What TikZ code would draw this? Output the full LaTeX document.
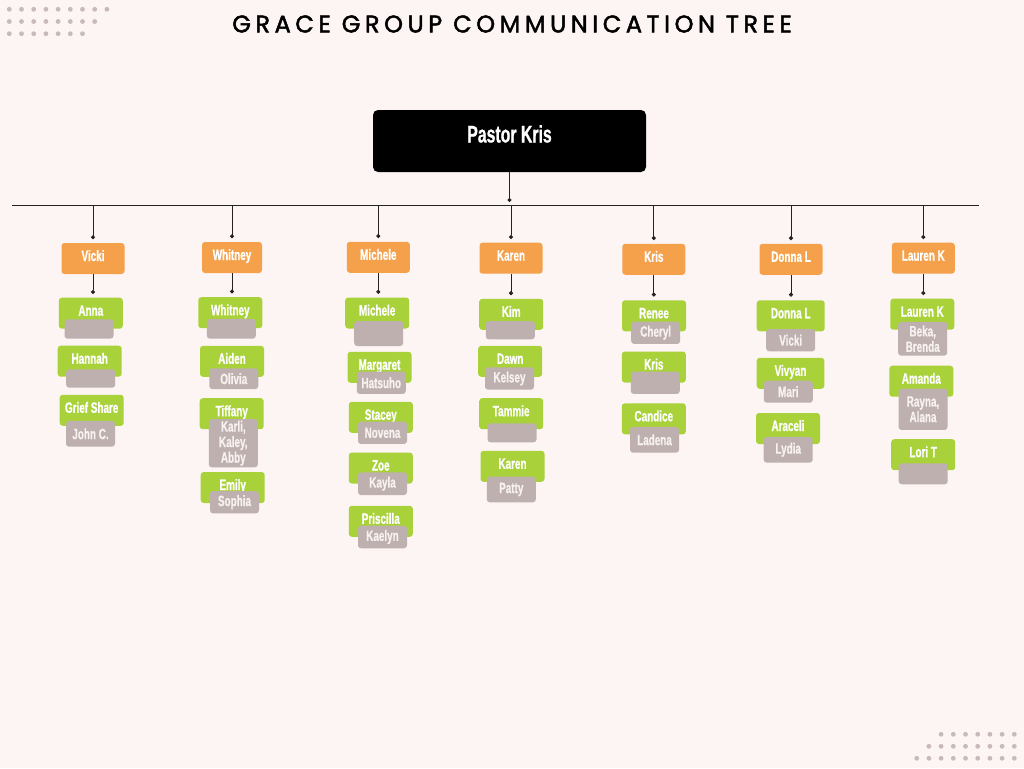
\documentclass[tikz,border=0pt]{standalone}
\usepackage{fontspec}
\usetikzlibrary{positioning,arrows.meta}

\newfontfamily\namefont{Liberation Sans}[FakeStretch=0.66,FakeBold=0.8]
\newfontfamily\titlefont{Poppins}[LetterSpace=19,FakeBold=2]

\definecolor{bgpink}{HTML}{FDF5F3}
\definecolor{leadorange}{HTML}{F5A04A}
\definecolor{memgreen}{HTML}{A9D23A}
\definecolor{notegrey}{HTML}{BDB0AE}
\definecolor{notetext}{HTML}{F7F1F0}
\definecolor{dotgrey}{HTML}{C7BAB8}
\definecolor{linegrey}{HTML}{222222}

\begin{document}
\begin{tikzpicture}[
  x=1pt, y=-1pt,
  font=\namefont\bfseries\fontsize{15}{15.5}\selectfont,
  box/.style={rounded corners=3pt, align=center, text=white, inner xsep=2pt},
  lead/.style={box, fill=leadorange, minimum width=63pt, inner ysep=3pt, text height=15pt, text depth=10pt},
  member/.style={box, fill=memgreen, minimum width=64pt, inner ysep=3pt, text height=15pt, text depth=10pt},
  note/.style={box, fill=notegrey, text=notetext, minimum width=49pt, inner ysep=1pt},
  arr/.style={-{Circle[length=4pt]}, line width=0.9pt, draw=linegrey, shorten >=3.5pt}
]
\useasboundingbox[fill=bgpink] (0,0) rectangle (1024,768);

% dots in the corners
\foreach \r in {0,1,2} {
  \foreach \i in {0,...,8} {
    \pgfmathtruncatemacro{\n}{8-\r}
    \ifnum\i>\n\else \fill[dotgrey] (9.3+12.2*\i, 9.3+12.2*\r) circle (2.4pt); \fi
    \pgfmathtruncatemacro{\m}{6+\r}
    \ifnum\i>\m\else \fill[dotgrey] (1014.3-12.2*\i, 734.3+12*\r) circle (2.4pt); \fi
  }
}

\node[font=\titlefont\fontsize{24}{26}\selectfont, text=black] (title) at (512,24) {GRACE GROUP COMMUNICATION TREE};

\node[box, fill=black, minimum width=273pt, inner ysep=0pt, text height=32.5pt, text depth=29.5pt, rounded corners=5pt,
  font=\namefont\bfseries\fontsize{24}{26}\selectfont] (pastor) at (509.5,141) {Pastor Kris};

\coordinate (barL) at (12,205.5);
\coordinate (barR) at (979,205.5);
\draw[line width=0.9pt, draw=linegrey] (barL) -- (barR);

% leaders
\node[lead] (vicki) at (93,258.5) {Vicki};
\node[lead, minimum width=60pt] (whitney) at (232,257.5) {Whitney};
\node[lead] (michele) at (378.3,257.3) {Michele};
\node[lead] (karen) at (511,258.2) {Karen};
\node[lead] (kris) at (653.8,259.3) {Kris};
\node[lead] (donna) at (791,259.3) {Donna L};
\node[lead] (lauren) at (923.3,258.2) {Lauren K};

% Vicki
\node[member] (vicki1) at (90.8,313.2) {Anna};
\node[note, minimum height=19.4pt] (vicki1n) at (89,329) {};
\node[member] (vicki2) at (89.7,361.2) {Hannah};
\node[note, minimum height=18.4pt] (vicki2n) at (90.7,378.5) {};
\node[member] (vicki3) at (91.7,410.3) {Grief Share};
\node[note, minimum height=25.7pt] (vicki3n) at (90.5,433.8) {John C.};

% Whitney
\node[member] (whitney1) at (230.3,312.7) {Whitney};
\node[note, minimum height=19.7pt] (whitney1n) at (231.3,328.8) {};
\node[member] (whitney2) at (232,361.3) {Aiden};
\node[note, minimum height=20.7pt] (whitney2n) at (233.8,378.7) {Olivia};
\node[member] (whitney3) at (231.7,413.7) {Tiffany};
\node[note, minimum height=48.3pt] (whitney3n) at (233.3,443.2) {Karli,\\Kaley,\\Abby};
\node[member] (whitney4) at (232.7,487.5) {Emily};
\node[note, minimum height=22.3pt] (whitney4n) at (234.5,502.2) {Sophia};

% Michele
\node[member] (michele1) at (377.2,313) {Michele};
\node[note, minimum height=25pt] (michele1n) at (378.7,333.5) {};
\node[member] (michele2) at (379.5,367.3) {Margaret};
\node[note, minimum height=22.3pt] (michele2n) at (381.3,382.8) {Hatsuho};
\node[member] (michele3) at (380.8,417.3) {Stacey};
\node[note, minimum height=22.3pt] (michele3n) at (382.5,432.8) {Novena};
\node[member] (michele4) at (380.8,468) {Zoe};
\node[note, minimum height=22.7pt] (michele4n) at (382.5,483.7) {Kayla};
\node[member] (michele5) at (380.8,521.3) {Priscilla};
\node[note, minimum height=22.6pt] (michele5n) at (382.5,537) {Kaelyn};

% Karen
\node[member] (karen1) at (511.2,314.3) {Kim};
\node[note, minimum height=18.3pt] (karen1n) at (510.3,330.2) {};
\node[member] (karen2) at (510.2,361.3) {Dawn};
\node[note, minimum height=22.4pt] (karen2n) at (509.5,378.5) {Kelsey};
\node[member] (karen3) at (511.2,413.7) {Tammie};
\node[note, minimum height=19pt] (karen3n) at (512,432.8) {};
\node[member] (karen4) at (512.5,466.3) {Karen};
\node[note, minimum height=25.6pt] (karen4n) at (511.3,489.5) {Patty};

% Kris
\node[member] (kris1) at (654,315.8) {Renee};
\node[note, minimum height=22.3pt] (kris1n) at (655.7,332.8) {Cheryl};
\node[member] (kris2) at (653.8,367) {Kris};
\node[note, minimum height=22.3pt] (kris2n) at (655.3,382.8) {};
\node[member] (kris3) at (653.8,418.8) {Candice};
\node[note, minimum height=25.7pt] (kris3n) at (654.5,439.8) {Ladena};

% Donna L
\node[member, minimum width=68pt] (donna1) at (790.7,315.8) {Donna L};
\node[note, minimum height=22.3pt] (donna1n) at (790.7,340.2) {Vicki};
\node[member, minimum width=67.6pt] (donna2) at (790.5,373.3) {Vivyan};
\node[note, minimum height=22pt] (donna2n) at (788.3,391.7) {Mari};
\node[member] (donna3) at (788,428.5) {Araceli};
\node[note, minimum height=25.7pt] (donna3n) at (788.2,449.8) {Lydia};

% Lauren K
\node[member] (lauren1) at (922.3,314.2) {Lauren K};
\node[note, minimum height=33.7pt] (lauren1n) at (922.7,338.8) {Beka,\\Brenda};
\node[member] (lauren2) at (921.3,381.2) {Amanda};
\node[note, minimum height=41.3pt] (lauren2n) at (923,409.3) {Rayna,\\Alana};
\node[member] (lauren3) at (923.2,454.7) {Lori T};
\node[note, minimum height=21pt] (lauren3n) at (923.2,473.8) {};

% connectors
\draw[arr] (pastor.south) -- (pastor.south |- barL);
\draw[arr] (vicki.north |- barL) -- (vicki.north);
\draw[arr] (whitney.north |- barL) -- (whitney.north);
\draw[arr] (michele.north |- barL) -- (michele.north);
\draw[arr] (karen.north |- barL) -- (karen.north);
\draw[arr] (kris.north |- barL) -- (kris.north);
\draw[arr] (donna.north |- barL) -- (donna.north);
\draw[arr] (lauren.north |- barL) -- (lauren.north);
\draw[arr] (vicki.south) -- (vicki.south |- vicki1.north);
\draw[arr] (whitney.south) -- (whitney.south |- whitney1.north);
\draw[arr] (michele.south) -- (michele.south |- michele1.north);
\draw[arr] (karen.south) -- (karen.south |- karen1.north);
\draw[arr] (kris.south) -- (kris.south |- kris1.north);
\draw[arr] (donna.south) -- (donna.south |- donna1.north);
\draw[arr] (lauren.south) -- (lauren.south |- lauren1.north);
\end{tikzpicture}
\end{document}
